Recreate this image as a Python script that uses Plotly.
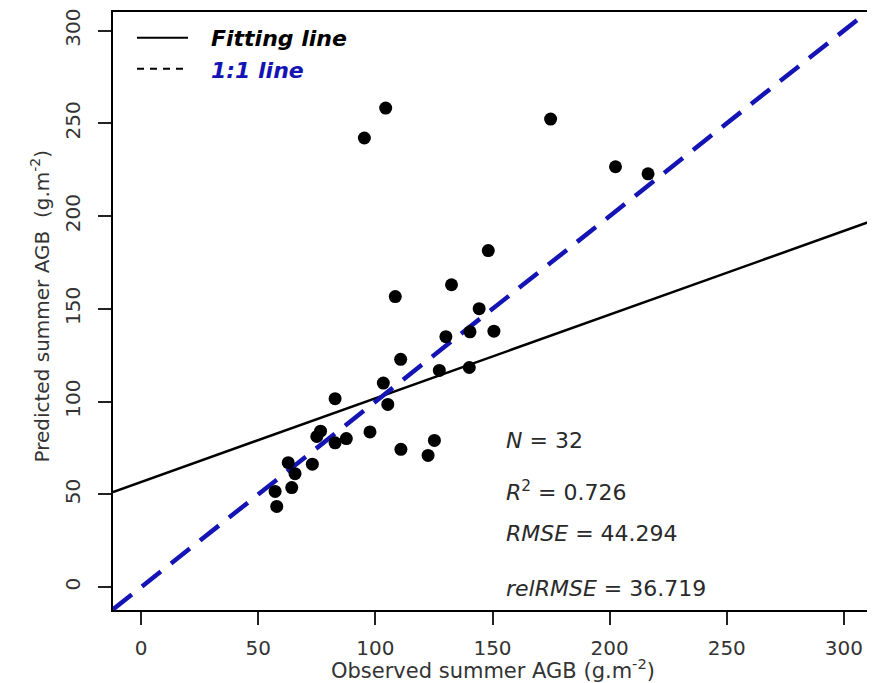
import plotly.graph_objects as go

# ---- data ----
observed = [104.4, 95.3, 174.8, 202.5, 216.4, 132.5, 108.5, 144.3, 150.6, 130.1,
            140.4, 127.3, 140.1, 110.8, 103.4, 82.8, 105.3, 97.7, 76.6, 75.0,
            87.6, 82.8, 110.9, 125.2, 122.5, 62.8, 73.1, 65.7, 57.2, 64.3,
            57.9, 148.2]
predicted = [258.2, 242.1, 252.3, 226.6, 222.8, 163.0, 156.6, 150.1, 138.0, 135.0,
             137.6, 116.8, 118.4, 122.8, 110.0, 101.6, 98.5, 83.7, 84.1, 81.2,
             80.1, 77.8, 74.3, 79.1, 71.0, 67.1, 66.3, 61.2, 51.6, 53.7,
             43.5, 181.4]
fit_intercept = 56.7
fit_slope = 0.451
x_range = [-12, 312]
y_range = [-12.3, 310]
tick_vals = [0, 50, 100, 150, 200, 250, 300]
stats_lines = ["<i>N</i> = 32",
               "<i>R</i><sup>2</sup> = 0.726",
               "<i>RMSE</i> = 44.294",
               "<i>relRMSE</i> = 36.719"]
stats_y = [440, 490, 533, 588]          # pixel rows (page) of the stat texts
legend_labels = ["Fitting line", "1:1 line"]

FONT = "DejaVu Sans"
OFF = 8                      # page body margin
W, H = 867, 675
L, R, T, B = 105, 3, 1, 73
PW, PH = W - L - R, H - T - B


def px_x(p):
    return (p - OFF - L) / PW


def px_y(p):
    return (H - B - (p - OFF)) / PH


fig = go.Figure()

# fitting line
fit_x = x_range
fit_y = [fit_intercept + fit_slope * v for v in fit_x]
fig.add_trace(go.Scatter(x=fit_x, y=fit_y, mode="lines",
                         line=dict(color="black", width=2.5),
                         showlegend=False, hoverinfo="skip"))
# 1:1 line
fig.add_trace(go.Scatter(x=x_range, y=x_range, mode="lines",
                         line=dict(color="#1414b4", width=4.5, dash="24px,13px"),
                         showlegend=False, hoverinfo="skip"))
# points
fig.add_trace(go.Scatter(x=observed, y=predicted, mode="markers",
                         marker=dict(color="black", size=13),
                         showlegend=False))

axis_common = dict(tickvals=tick_vals, showgrid=False,
                   zeroline=False, showline=True, mirror=True,
                   linecolor="black", linewidth=2, ticks="outside",
                   ticklen=13, tickwidth=1.5, tickcolor="#222",
                   ticklabeloverflow="allow",
                   tickfont=dict(family=FONT, size=20, color="#333"))

fig.update_xaxes(**axis_common, range=x_range, ticklabelstandoff=6)
fig.update_yaxes(**axis_common, range=y_range, tickangle=-90, ticklabelstandoff=10)

annotations = []
# axis titles
annotations.append(dict(text="Observed summer AGB (g.m<sup>-2</sup>)",
                        xref="paper", yref="paper", x=0.5, y=0,
                        xanchor="center", yanchor="middle", yshift=-59,
                        showarrow=False,
                        font=dict(family=FONT, size=21, color="#333")))
annotations.append(dict(text="Predicted summer AGB  (g.m<sup>-2</sup>)",
                        xref="paper", yref="paper", x=0, y=px_y(305),
                        xanchor="center", yanchor="middle", xshift=-73,
                        textangle=-90, showarrow=False,
                        font=dict(family=FONT, size=20, color="#333")))
# stats text
for txt, py in zip(stats_lines, stats_y):
    annotations.append(dict(text=txt, xref="paper", yref="paper",
                            x=px_x(504), y=px_y(py), xanchor="left",
                            yanchor="middle", showarrow=False,
                            font=dict(family=FONT, size=22, color="#2a2a2a")))
# legend text
legend_colors = ["black", "#1414b4"]
legend_rows = [36, 68]
for txt, col, py in zip(legend_labels, legend_colors, legend_rows):
    annotations.append(dict(text="<b><i>" + txt + "</i></b>", xref="paper",
                            yref="paper", x=px_x(209), y=px_y(py),
                            xanchor="left", yanchor="middle", showarrow=False,
                            font=dict(family=FONT, size=22, color=col)))

shapes = [
    dict(type="line", xref="paper", yref="paper", x0=px_x(137), x1=px_x(188),
         y0=px_y(35), y1=px_y(35), line=dict(color="black", width=2)),
    dict(type="line", xref="paper", yref="paper", x0=px_x(137), x1=px_x(188),
         y0=px_y(66), y1=px_y(66), line=dict(color="black", width=2, dash="7px,6px")),
]

fig.update_layout(width=W, height=H, margin=dict(l=L, r=R, t=T, b=B),
                  paper_bgcolor="white", plot_bgcolor="white",
                  annotations=annotations, shapes=shapes, showlegend=False)

fig.write_html("out.html")
